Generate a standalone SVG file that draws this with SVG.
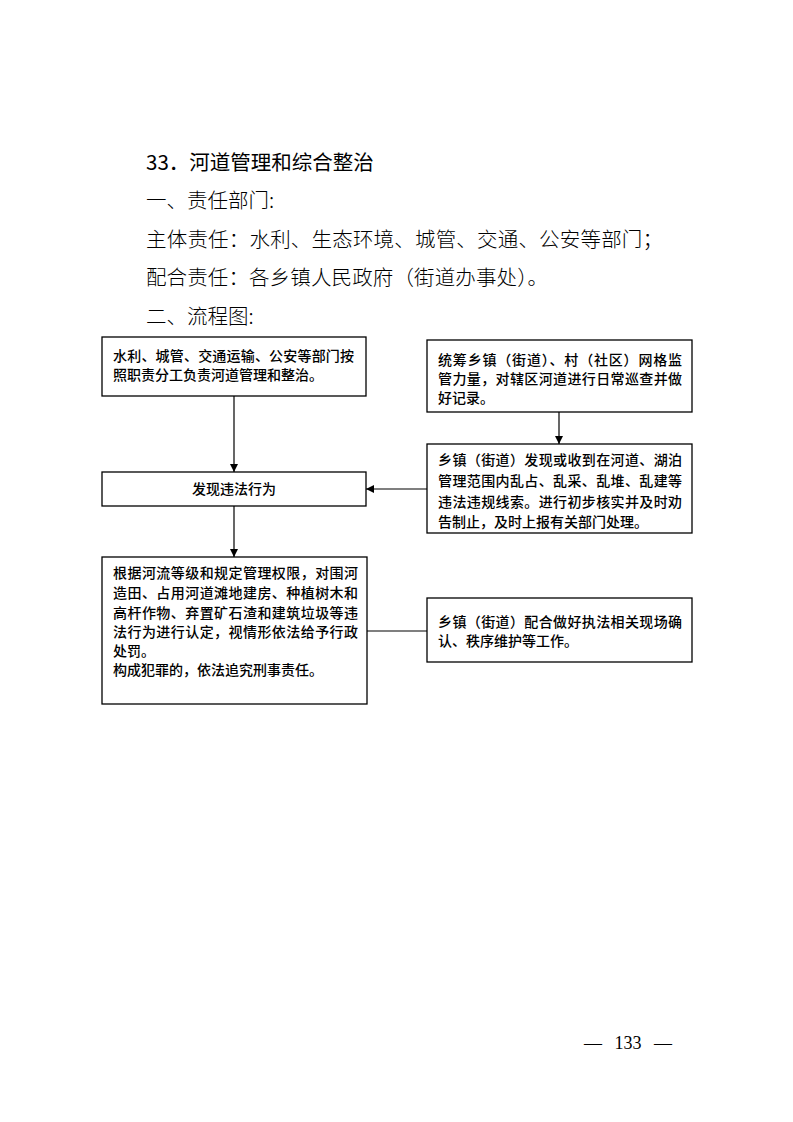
<svg xmlns="http://www.w3.org/2000/svg" width="793" height="1122" viewBox="0 0 793 1122">
<defs>
<marker id="arr" viewBox="0 0 10 10" refX="10" refY="5" markerWidth="8" markerHeight="8" markerUnits="userSpaceOnUse" orient="auto">
<path d="M0,0 L10,5 L0,10 z" fill="#000"/>
</marker>
<style>
.h{font-family:"Noto Sans CJK SC",sans-serif;font-size:20.5px;fill:#000}
.t{font-family:"Noto Sans CJK SC",sans-serif;font-size:20.5px;font-weight:300;fill:#000}
.b{font-family:"Noto Sans CJK SC",sans-serif;font-size:14px;font-weight:500;fill:#000}
.box{fill:#fff;stroke:#000;stroke-width:1.3}
.ln{fill:none;stroke:#000;stroke-width:1.2}
.pg{font-family:"Liberation Serif",serif;font-size:18px;fill:#000}
</style>
</defs>
<rect width="793" height="1122" fill="#fff"/>
<text class="h" x="146" y="170">33．河道管理和综合整治</text>
<text class="t" x="146" y="208">一、责任部门:</text>
<text class="t" x="146" y="247" textLength="517">主体责任：水利、生态环境、城管、交通、公安等部门；</text>
<text class="t" x="146" y="285" textLength="402">配合责任：各乡镇人民政府（街道办事处）。</text>
<text class="t" x="146" y="324">二、流程图:</text>

<g id="connectors">
<line class="ln" x1="234" y1="396" x2="234" y2="472" marker-end="url(#arr)"/>
<line class="ln" x1="559" y1="412" x2="559" y2="444" marker-end="url(#arr)"/>
<line class="ln" x1="427" y1="489" x2="366" y2="489" marker-end="url(#arr)"/>
<line class="ln" x1="234" y1="506" x2="234" y2="557" marker-end="url(#arr)"/>
<line class="ln" x1="367" y1="631" x2="427" y2="631"/>
</g>

<g id="nodeA">
<rect class="box" x="102" y="337" width="264" height="59"/>
<text class="b" x="113" y="361" textLength="241">水利、城管、交通运输、公安等部门按</text>
<text class="b" x="113" y="380">照职责分工负责河道管理和整治。</text>
</g>
<g id="nodeB">
<rect class="box" x="102" y="472" width="264" height="34"/>
<text class="b" x="234" y="494" text-anchor="middle">发现违法行为</text>
</g>
<g id="nodeC">
<rect class="box" x="427" y="340" width="265" height="72"/>
<text class="b" x="438" y="365" textLength="244">统筹乡镇（街道）、村（社区）网格监</text>
<text class="b" x="438" y="384" textLength="244">管力量，对辖区河道进行日常巡查并做</text>
<text class="b" x="438" y="403">好记录。</text>
</g>
<g id="nodeD">
<rect class="box" x="427" y="444" width="265" height="89"/>
<text class="b" x="438" y="465" textLength="244">乡镇（街道）发现或收到在河道、湖泊</text>
<text class="b" x="438" y="486" textLength="244">管理范围内乱占、乱采、乱堆、乱建等</text>
<text class="b" x="438" y="507" textLength="244">违法违规线索。进行初步核实并及时劝</text>
<text class="b" x="438" y="527">告制止，及时上报有关部门处理。</text>
</g>
<g id="nodeE">
<rect class="box" x="102" y="557" width="265" height="147"/>
<text class="b" x="113" y="578" textLength="245">根据河流等级和规定管理权限，对围河</text>
<text class="b" x="113" y="598" textLength="245">造田、占用河道滩地建房、种植树木和</text>
<text class="b" x="113" y="618" textLength="245">高杆作物、弃置矿石渣和建筑垃圾等违</text>
<text class="b" x="113" y="637" textLength="245">法行为进行认定，视情形依法给予行政</text>
<text class="b" x="113" y="656">处罚。</text>
<text class="b" x="113" y="675">构成犯罪的，依法追究刑事责任。</text>
</g>
<g id="nodeF">
<rect class="box" x="427" y="598" width="265" height="64"/>
<text class="b" x="438" y="627" textLength="244">乡镇（街道）配合做好执法相关现场确</text>
<text class="b" x="438" y="646">认、秩序维护等工作。</text>
</g>

<text class="pg" x="628" y="1049" text-anchor="middle" word-spacing="8">— 133 —</text>
</svg>
